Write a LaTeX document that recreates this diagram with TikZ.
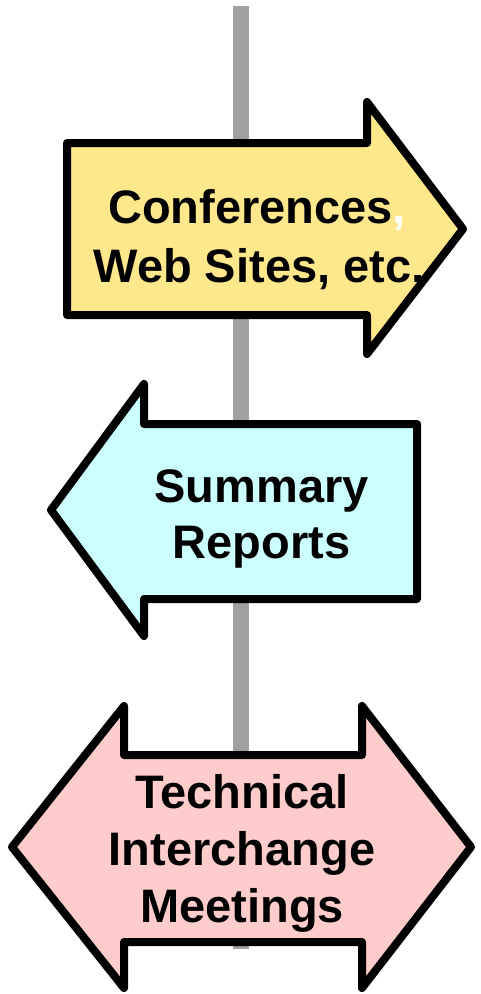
\documentclass[tikz,border=0pt]{standalone}
\usepackage{fontspec}
\setmainfont{Liberation Sans}
\definecolor{yellowfill}{RGB}{255,232,140}
\definecolor{cyanfill}{RGB}{204,255,255}
\definecolor{pinkfill}{RGB}{255,204,204}
\definecolor{polegray}{RGB}{160,160,160}
\begin{document}
\begin{tikzpicture}[x=1pt,y=-1pt,
  arrowshape/.style={draw=black,line width=8pt,line join=round},
  label/.style={anchor=base,inner sep=0pt,font=\bfseries\fontsize{47}{57}\selectfont}]
\useasboundingbox (0,0) rectangle (481,994);
% pole
\fill[polegray] (233,6) rectangle (249,949);
% right arrow
\draw[arrowshape,fill=yellowfill] (67,143) -- (367,143) -- (367,102) -- (463,229) -- (367,354) -- (367,315) -- (67,315) -- cycle;
% left arrow
\draw[arrowshape,fill=cyanfill] (417,424) -- (144,424) -- (144,384) -- (51,510) -- (144,636) -- (144,599) -- (417,599) -- cycle;
% double arrow
\draw[arrowshape,fill=pinkfill] (12,847) -- (124,706) -- (124,755) -- (362,755) -- (362,706) -- (471,847) -- (362,988) -- (362,942) -- (124,942) -- (124,988) -- cycle;
% texts
\node[label] (c1) at (257,223) {Conferences\textcolor{white}{,}};
\node[label] (c2) at (259,282) {Web Sites, etc,};
\node[label] (s1) at (261.5,502) {Summary};
\node[label] (s2) at (261.5,558) {Reports};
\node[label] (t1) at (242,808) {Technical};
\node[label] (t2) at (242,865) {Interchange};
\node[label] (t3) at (242,922) {Meetings};
\end{tikzpicture}
\end{document}
